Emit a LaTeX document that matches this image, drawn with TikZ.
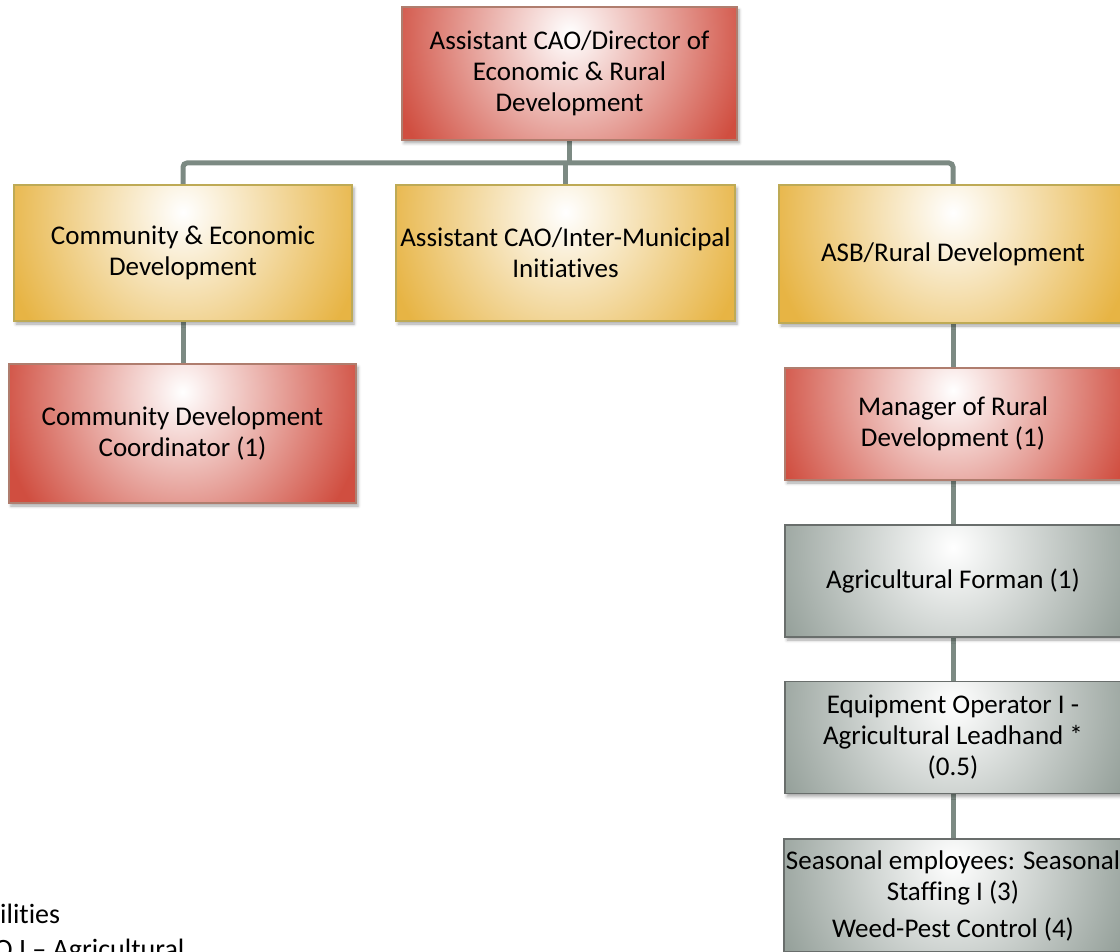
\documentclass[tikz,border=0pt]{standalone}
\usepackage{fontspec}
\setmainfont{Carlito}[Ligatures=NoCommon]
\usetikzlibrary{shadows.blur,backgrounds,calc}
\definecolor{redC}{RGB}{208,78,64}
\definecolor{yelC}{RGB}{231,180,68}
\definecolor{grayC}{RGB}{150,161,155}
\definecolor{redB}{RGB}{175,125,110}
\definecolor{yelB}{RGB}{190,170,85}
\definecolor{grayB}{RGB}{105,110,108}
\definecolor{lineC}{RGB}{124,138,131}
\tikzset{
  orgbox/.style={rectangle, inner sep=2pt, align=center,
    font=\fontsize{27}{31}\selectfont, line width=1.1pt,
    blur shadow={shadow xshift=2pt, shadow yshift=-3pt, shadow blur radius=3pt, shadow opacity=35},
    path picture={
      \fill[#1] (path picture bounding box.south west) rectangle (path picture bounding box.north east);
      \shade[inner color=white, outer color=#1]
      ($(path picture bounding box.north)!0.2!(path picture bounding box.south)$)
      ellipse [x radius=185pt, y radius=195pt];}},
  redbox/.style={orgbox=redC, draw=redB},
  yelbox/.style={orgbox=yelC, draw=yelB},
  graybox/.style={orgbox=grayC, draw=grayB},
  conn/.style={draw=lineC, line width=5pt, rounded corners=4pt},
  note/.style={anchor=base west, inner sep=0pt, font=\fontsize{28}{33}\selectfont}
}
\begin{document}
\begin{tikzpicture}[x=1pt, y=-1pt]
\useasboundingbox (0,0) rectangle (1120,952);

\node[redbox, minimum width=335pt, minimum height=133pt] (top) at (569.5,73.5)
  {Assistant CAO/Director of\\ Economic \& Rural\\ Development};

\node[yelbox, minimum width=338pt, minimum height=136pt] (ced) at (183,253)
  {Community \& Economic\\ Development};
\node[yelbox, minimum width=339pt, minimum height=136pt] (aim) at (565.5,253)
  {Assistant CAO/Inter-Municipal\\ Initiatives};
\node[yelbox, minimum width=348pt, minimum height=138pt] (asb) at (953,254)
  {ASB/Rural Development};

\node[redbox, minimum width=347pt, minimum height=139pt] (cdc) at (182.5,433.5)
  {Community Development\\ Coordinator (1)};
\node[redbox, minimum width=336pt, minimum height=112pt] (mgr) at (953,424)
  {Manager of Rural\\ Development (1)};

\node[graybox, minimum width=336pt, minimum height=112pt] (agf) at (953,581)
  {Agricultural Forman (1)};
\node[graybox, minimum width=336pt, minimum height=112pt] (eqp) at (953,737.5)
  {Equipment Operator I -\\ Agricultural Leadhand *\\ (0.5)};
\node[graybox, minimum width=336pt, minimum height=113pt] (sea) at (953,895.5)
  {Seasonal employees: Seasonal\\ Staffing I (3)\\[6pt] Weed-Pest Control (4)};

\coordinate (barc) at (0,163);

\begin{scope}[on background layer]
  \draw[conn] (ced.north) -- (ced.north |- barc) -- (asb.north |- barc) -- (asb.north);
  \draw[conn] (top.south) -- (top.south |- barc);
  \draw[conn] (aim.north) -- (aim.north |- barc);
  \draw[conn] (ced.south) -- (ced.south |- cdc.north);
  \draw[conn] (asb.south) -- (mgr.north);
  \draw[conn] (mgr.south) -- (agf.north);
  \draw[conn] (agf.south) -- (eqp.north);
  \draw[conn] (eqp.south) -- (sea.north);
\end{scope}

\node[note] (n1) at (0,923) {ilities};
\node[note] (n2) at (-6,958) {O I – Agricultural};
\end{tikzpicture}
\end{document}
